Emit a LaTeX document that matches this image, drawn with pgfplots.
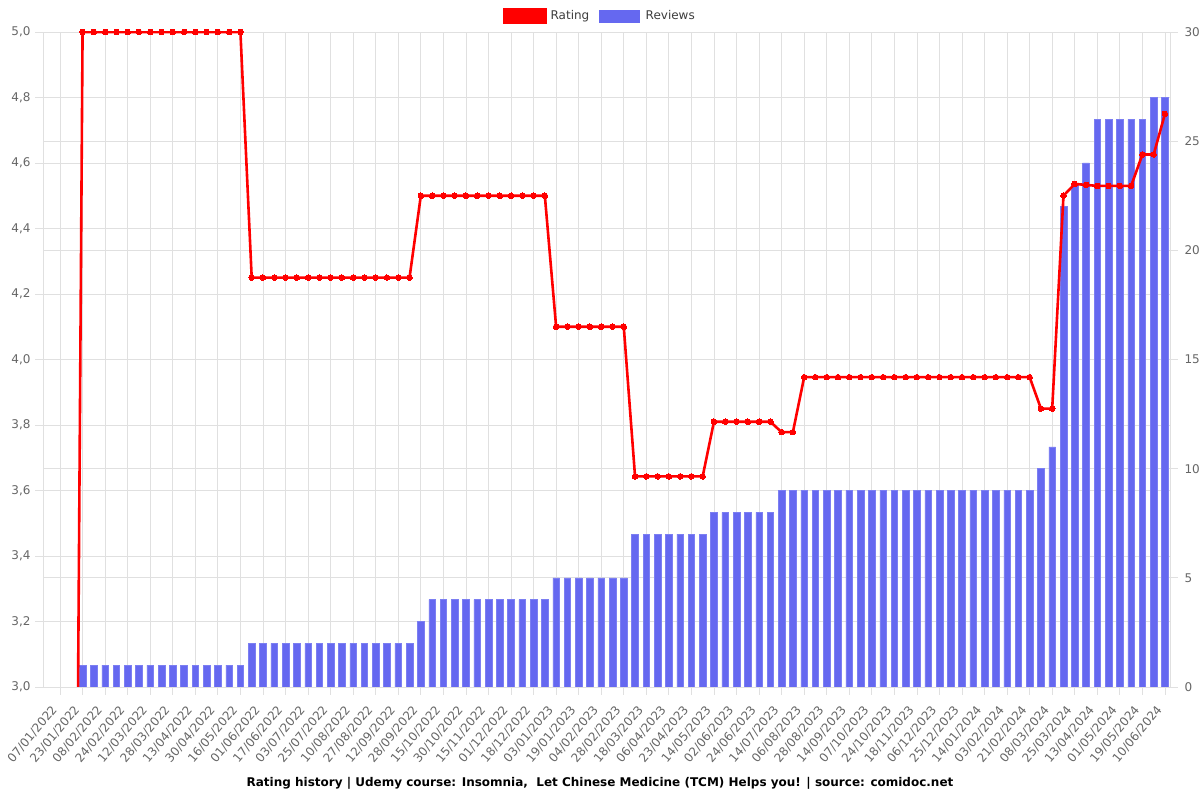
\documentclass[border=0pt]{standalone}
\usepackage{fontspec}
\setmainfont{DejaVu Sans}
\usepackage{pgfplots}
\pgfplotsset{compat=1.18}
\definecolor{barblue}{RGB}{101,104,240}
\definecolor{gridgray}{RGB}{224,224,224}
\definecolor{ticktext}{RGB}{102,102,102}
\newcommand{\tf}{\fontsize{12}{14}\selectfont}

\pgfplotstableread[row sep=\\]{
x y\\
0 0\\ 1 0\\
2 5\\ 3 5\\ 4 5\\ 5 5\\ 6 5\\ 7 5\\ 8 5\\ 9 5\\ 10 5\\ 11 5\\ 12 5\\ 13 5\\ 14 5\\ 15 5\\ 16 5\\
17 4.25\\ 18 4.25\\ 19 4.25\\ 20 4.25\\ 21 4.25\\ 22 4.25\\ 23 4.25\\ 24 4.25\\ 25 4.25\\ 26 4.25\\ 27 4.25\\ 28 4.25\\ 29 4.25\\ 30 4.25\\ 31 4.25\\
32 4.5\\ 33 4.5\\ 34 4.5\\ 35 4.5\\ 36 4.5\\ 37 4.5\\ 38 4.5\\ 39 4.5\\ 40 4.5\\ 41 4.5\\ 42 4.5\\ 43 4.5\\
44 4.1\\ 45 4.1\\ 46 4.1\\ 47 4.1\\ 48 4.1\\ 49 4.1\\ 50 4.1\\
51 3.643\\ 52 3.643\\ 53 3.643\\ 54 3.643\\ 55 3.643\\ 56 3.643\\ 57 3.643\\
58 3.81\\ 59 3.81\\ 60 3.81\\ 61 3.81\\ 62 3.81\\ 63 3.81\\
64 3.778\\ 65 3.778\\
66 3.946\\ 67 3.946\\ 68 3.946\\ 69 3.946\\ 70 3.946\\ 71 3.946\\ 72 3.946\\ 73 3.946\\ 74 3.946\\ 75 3.946\\ 76 3.946\\ 77 3.946\\ 78 3.946\\ 79 3.946\\ 80 3.946\\ 81 3.946\\ 82 3.946\\ 83 3.946\\ 84 3.946\\ 85 3.946\\ 86 3.946\\
87 3.85\\ 88 3.85\\
89 4.5\\ 90 4.536\\ 91 4.533\\ 92 4.53\\ 93 4.53\\ 94 4.53\\ 95 4.53\\
96 4.626\\ 97 4.626\\ 98 4.75\\
}\ratingdata

\pgfplotstableread[row sep=\\]{
x y\\
2 1\\ 3 1\\ 4 1\\ 5 1\\ 6 1\\ 7 1\\ 8 1\\ 9 1\\ 10 1\\ 11 1\\ 12 1\\ 13 1\\ 14 1\\ 15 1\\ 16 1\\
17 2\\ 18 2\\ 19 2\\ 20 2\\ 21 2\\ 22 2\\ 23 2\\ 24 2\\ 25 2\\ 26 2\\ 27 2\\ 28 2\\ 29 2\\ 30 2\\ 31 2\\
32 3\\
33 4\\ 34 4\\ 35 4\\ 36 4\\ 37 4\\ 38 4\\ 39 4\\ 40 4\\ 41 4\\ 42 4\\ 43 4\\
44 5\\ 45 5\\ 46 5\\ 47 5\\ 48 5\\ 49 5\\ 50 5\\
51 7\\ 52 7\\ 53 7\\ 54 7\\ 55 7\\ 56 7\\ 57 7\\
58 8\\ 59 8\\ 60 8\\ 61 8\\ 62 8\\ 63 8\\
64 9\\ 65 9\\ 66 9\\ 67 9\\ 68 9\\ 69 9\\ 70 9\\ 71 9\\ 72 9\\ 73 9\\ 74 9\\ 75 9\\ 76 9\\ 77 9\\ 78 9\\ 79 9\\ 80 9\\ 81 9\\ 82 9\\ 83 9\\ 84 9\\ 85 9\\ 86 9\\
87 10\\ 88 11\\ 89 22\\ 90 23\\ 91 24\\
92 26\\ 93 26\\ 94 26\\ 95 26\\ 96 26\\
97 27\\ 98 27\\
}\reviewdata

\begin{document}
\begin{tikzpicture}[x=1pt,y=1pt]
\useasboundingbox (0,0) rectangle (1200,800);
% Reviews axis (right), with all grid lines
\begin{axis}[
  at={(43pt,113pt)}, anchor=south west, scale only axis,
  width=1127pt, height=655pt,
  xmin=-1.51, xmax=98.45, ymin=0, ymax=30,
  axis line style={gridgray, line width=0.8pt},
  xtick={0,2,...,98},
  xticklabels={07/01/2022,23/01/2022,08/02/2022,24/02/2022,12/03/2022,28/03/2022,13/04/2022,30/04/2022,16/05/2022,01/06/2022,17/06/2022,03/07/2022,25/07/2022,10/08/2022,27/08/2022,12/09/2022,28/09/2022,15/10/2022,30/10/2022,15/11/2022,01/12/2022,18/12/2022,03/01/2023,19/01/2023,04/02/2023,28/02/2023,18/03/2023,06/04/2023,23/04/2023,14/05/2023,02/06/2023,24/06/2023,14/07/2023,06/08/2023,28/08/2023,14/09/2023,07/10/2023,24/10/2023,18/11/2023,06/12/2023,25/12/2023,14/01/2024,03/02/2024,21/02/2024,08/03/2024,25/03/2024,13/04/2024,01/05/2024,19/05/2024,10/06/2024},
  xticklabel style={rotate=50, anchor=east, inner sep=0pt, font=\tf, text=ticktext, xshift=-13pt, yshift=-4pt},
  xtick pos=left, ytick pos=right,
  ytick={0,5,...,30},
  yticklabel style={font=\tf, text=ticktext, xshift=3pt},
  extra y ticks={3,6,9,12,18,21,24,27},
  extra y tick labels={},
  extra y tick style={major tick length=0pt, grid=major},
  tick align=outside, major tick length=8pt,
  tick style={gridgray, line width=0.8pt},
  xmajorgrids, ymajorgrids,
  grid style={gridgray, line width=0.8pt},
  /pgf/number format/assume math mode=true,
]
\addplot[ybar, bar width=6.6pt, fill=barblue, draw=barblue!85!white, line width=0.5pt] table[x=x, y=y] {\reviewdata};
\end{axis}
% Rating axis (left), line on top
\begin{axis}[
  at={(43pt,113pt)}, anchor=south west, scale only axis,
  width=1127pt, height=655pt,
  xmin=-1.51, xmax=98.45, ymin=3, ymax=5,
  hide x axis,
  axis line style={draw=none},
  ytick pos=left,
  ytick={3,3.2,3.4,3.6,3.8,4,4.2,4.4,4.6,4.8,5},
  yticklabel style={font=\tf, text=ticktext, xshift=-1pt,
    /pgf/number format/.cd, fixed, fixed zerofill, precision=1, use comma},
  /pgf/number format/assume math mode=true,
  tick align=outside, major tick length=8pt,
  tick style={gridgray, line width=0.8pt},
  legend style={at={(0.5,1)}, anchor=center, yshift=16pt, xshift=-6.5pt,
    draw=none, fill=none, font=\tf, text=ticktext!60!black,
    legend columns=2,
    /tikz/every even column/.append style={column sep=8pt}},
  legend cell align=left,
]
\addlegendimage{legend image code/.code={\fill[red] (0pt,-7.5pt) rectangle (43pt,7.5pt);}}
\addlegendentry{\hspace{2pt}Rating}
\addlegendimage{legend image code/.code={\fill[barblue] (0pt,-6pt) rectangle (40pt,6pt);}}
\addlegendentry{\hspace{4pt}Reviews}
\addplot[red, line width=2.6pt, line join=round, mark=*, mark size=2.8pt,
  mark options={fill=red, draw=red, line width=0pt}, forget plot] table[x=x, y=y] {\ratingdata};
\end{axis}
\node[font=\bfseries\tf, anchor=center] at (600,17) {Rating history | Udemy course: Insomnia,\ \ Let Chinese Medicine (TCM) Helps you! | source: comidoc.net};
\end{tikzpicture}
\end{document}
